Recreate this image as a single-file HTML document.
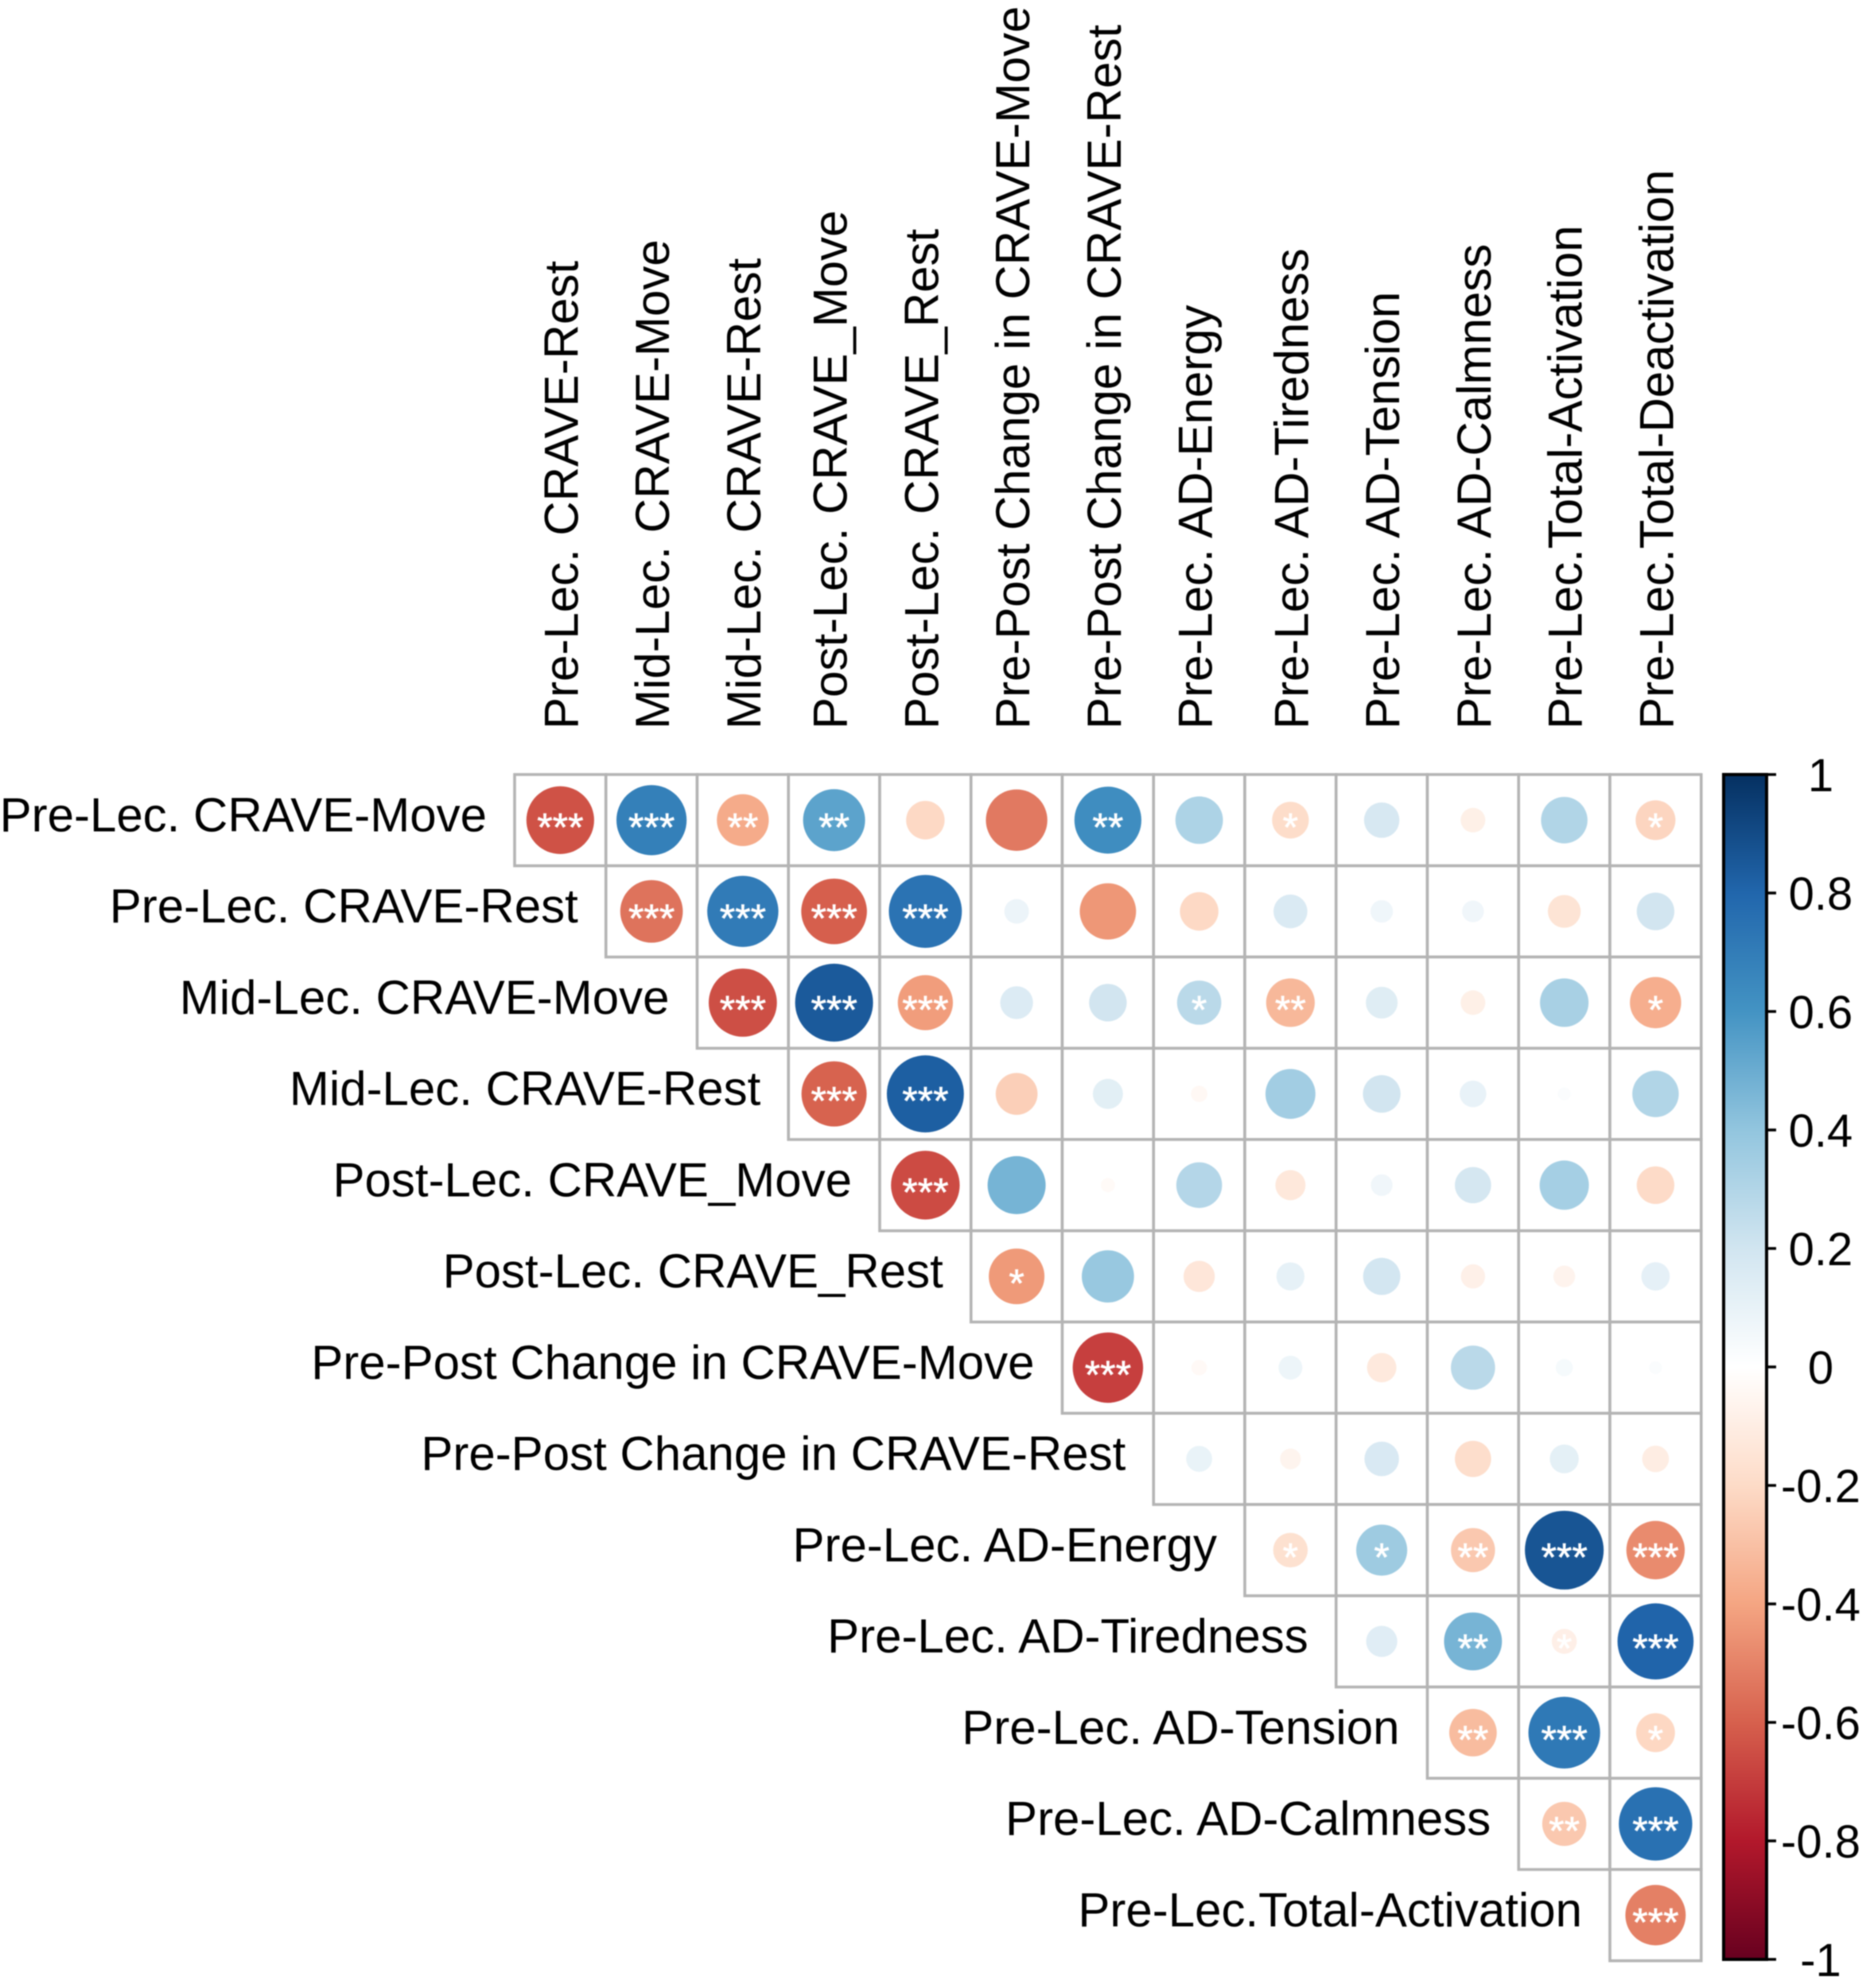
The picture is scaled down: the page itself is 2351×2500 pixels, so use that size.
<!DOCTYPE html>
<html lang="en">
<head>
<meta charset="utf-8">
<title>Correlation matrix</title>
<style>
html,body{margin:0;padding:0;background:#fff;}
#chart{display:block;width:2351px;height:2500px;filter:blur(0.7px);}
text{font-family:"Liberation Sans",Arial,sans-serif;fill:#000;}
.lab{font-size:60px;}
.tick{font-size:58px;text-anchor:middle;}
.stars{font-size:50px;text-anchor:middle;fill:#fff;stroke:#fff;stroke-width:0.6px;}
</style>
</head>
<body>
<svg id="chart" xmlns="http://www.w3.org/2000/svg" width="2351" height="2500" viewBox="0 0 2351 2500">
<defs><linearGradient id="cbGrad" x1="0" y1="0" x2="0" y2="1"></linearGradient></defs>
<rect width="2351" height="2500" fill="#fff"></rect>
<g id="cells"></g><g id="marks"></g><g id="rowLabels"></g><g id="colLabels"></g><g id="colorbar"></g>
</svg>
<script>
const rowLabels = ["Pre-Lec. CRAVE-Move","Pre-Lec. CRAVE-Rest","Mid-Lec. CRAVE-Move","Mid-Lec. CRAVE-Rest","Post-Lec. CRAVE_Move","Post-Lec. CRAVE_Rest","Pre-Post Change in CRAVE-Move","Pre-Post Change in CRAVE-Rest","Pre-Lec. AD-Energy","Pre-Lec. AD-Tiredness","Pre-Lec. AD-Tension","Pre-Lec. AD-Calmness","Pre-Lec.Total-Activation"];
const colLabels = ["Pre-Lec. CRAVE-Rest","Mid-Lec. CRAVE-Move","Mid-Lec. CRAVE-Rest","Post-Lec. CRAVE_Move","Post-Lec. CRAVE_Rest","Pre-Post Change in CRAVE-Move","Pre-Post Change in CRAVE-Rest","Pre-Lec. AD-Energy","Pre-Lec. AD-Tiredness","Pre-Lec. AD-Tension","Pre-Lec. AD-Calmness","Pre-Lec.Total-Activation","Pre-Lec.Total-Deactivation"];
// Upper-triangular correlations: row i holds columns i..12
const corrRows = [
 [-0.68,0.73,-0.40,0.57,-0.22,-0.56,0.665,0.335,-0.20,0.186,-0.09,0.32,-0.235],
 [-0.58,0.75,-0.64,0.79,0.09,-0.47,-0.22,0.17,0.075,0.07,-0.16,0.21],
 [-0.69,0.90,-0.45,0.16,0.21,0.29,-0.35,0.15,-0.09,0.35,-0.39],
 [-0.63,0.88,-0.26,0.135,-0.04,0.37,0.21,0.105,0.025,0.32],
 [-0.70,0.50,-0.03,0.31,-0.135,0.07,0.195,0.36,-0.21],
 [-0.46,0.405,-0.145,0.117,0.205,-0.087,-0.07,0.12],
 [-0.735,-0.036,0.084,-0.128,0.29,0.044,0.025],
 [0.10,-0.064,0.177,-0.195,0.124,-0.106],
 [-0.177,0.386,-0.288,0.92,-0.505],
 [0.144,0.497,-0.093,0.858],
 [-0.335,0.763,-0.224],
 [-0.288,0.80],
 [-0.54]
];
const starRows = [
 [3,3,2,2,0,0,2,0,1,0,0,0,1],
 [3,3,3,3,0,0,0,0,0,0,0,0],
 [3,3,3,0,0,1,2,0,0,0,1],
 [3,3,0,0,0,0,0,0,0,0],
 [3,0,0,0,0,0,0,0,0],
 [1,0,0,0,0,0,0,0],
 [3,0,0,0,0,0,0],
 [0,0,0,0,0,0],
 [1,1,2,3,3],
 [0,2,1,3],
 [2,3,1],
 [2,3],
 [3]
];
const colorbarTicks = ["1","0.8","0.6","0.4","0.2","0","-0.2","-0.4","-0.6","-0.8","-1"];
const palette = ["#67001F","#B2182B","#D6604D","#F4A582","#FDDBC7","#FFFFFF","#D1E5F0","#92C5DE","#4393C3","#2166AC","#053061"];

const NS = "http://www.w3.org/2000/svg";
const gridLeft = 647, gridTop = 974, cell = 114.75;
const cbLeft = 2167, cbRight = 2221, cbTop = 974, cbBottom = 2464;

function xCenter(col){ return gridLeft + cell * (col + 0.5); }
function yCenter(row){ return gridTop + cell * (row + 0.5); }
function radius(v){ return 0.45 * cell * Math.sqrt(Math.abs(v)); }
function yBar(v){ return cbTop + (1 - v) / 2 * (cbBottom - cbTop); }
function hexToRgb(h){ return [1,3,5].map(function(k){ return parseInt(h.substr(k,2),16); }); }
function colorFor(v){
  const t = (Math.max(-1,Math.min(1,v)) + 1) / 2 * (palette.length - 1);
  const i = Math.min(Math.floor(t), palette.length - 2), f = t - i;
  const a = hexToRgb(palette[i]), b = hexToRgb(palette[i+1]);
  return "rgb(" + a.map(function(c,k){ return Math.round(c + (b[k]-c)*f); }).join(",") + ")";
}
function make(tag, attrs, parent){
  const el = document.createElementNS(NS, tag);
  Object.keys(attrs).forEach(function(k){ el.setAttribute(k, attrs[k]); });
  parent.appendChild(el);
  return el;
}

const cellsG = document.getElementById("cells");
const marksG = document.getElementById("marks");
const rowG = document.getElementById("rowLabels");
const colG = document.getElementById("colLabels");
const barG = document.getElementById("colorbar");

corrRows.forEach(function(values, row){
  values.forEach(function(v, k){
    const col = row + k;
    const rect = make("rect", {x: gridLeft + cell*col, y: gridTop + cell*row, width: cell, height: cell, fill: "#fff", stroke: "#b4b4b4", "stroke-width": 3.6}, cellsG);
    
    
    const dot = make("circle", {cx: xCenter(col), cy: yCenter(row), r: radius(v), fill: colorFor(v * 0.94)}, marksG);
    
    
    const n = starRows[row][k];
    if (n > 0) {
      const s = make("text", {x: xCenter(col), y: yCenter(row) + 26, class: "stars"}, marksG);
      s.textContent = "*".repeat(n);
      
      
    }
  });
});

rowLabels.forEach(function(label, row){
  const t = make("text", {x: gridLeft + cell*row - 35, y: yCenter(row) + 14, class: "lab", "text-anchor": "end"}, rowG);
  t.textContent = label;
  
  
});

colLabels.forEach(function(label, col){
  const x = xCenter(col) + (/[g_y]/.test(label) ? 16 : 22);
  const t = make("text", {x: x, y: 917, class: "lab", "text-anchor": "start", transform: "rotate(-90 " + x + " 917)"}, colG);
  t.textContent = label;
  
  
});

const grad = document.getElementById("cbGrad");
palette.slice().reverse().forEach(function(c, i){
  make("stop", {offset: i / (palette.length - 1), "stop-color": c}, grad);
});
const bar = make("rect", {x: cbLeft, y: cbTop, width: cbRight - cbLeft, height: cbBottom - cbTop, fill: "url(#cbGrad)", stroke: "#000", "stroke-width": 4}, barG);


colorbarTicks.forEach(function(label){
  const y = yBar(parseFloat(label));
  const tick = make("line", {x1: cbRight, x2: cbRight + 12, y1: y, y2: y, stroke: "#000", "stroke-width": 3.5}, barG);
  
  
  const t = make("text", {x: 2289, y: y + 21, class: "tick"}, barG);
  t.textContent = label;
  
  
});
</script>
</body>
</html>
